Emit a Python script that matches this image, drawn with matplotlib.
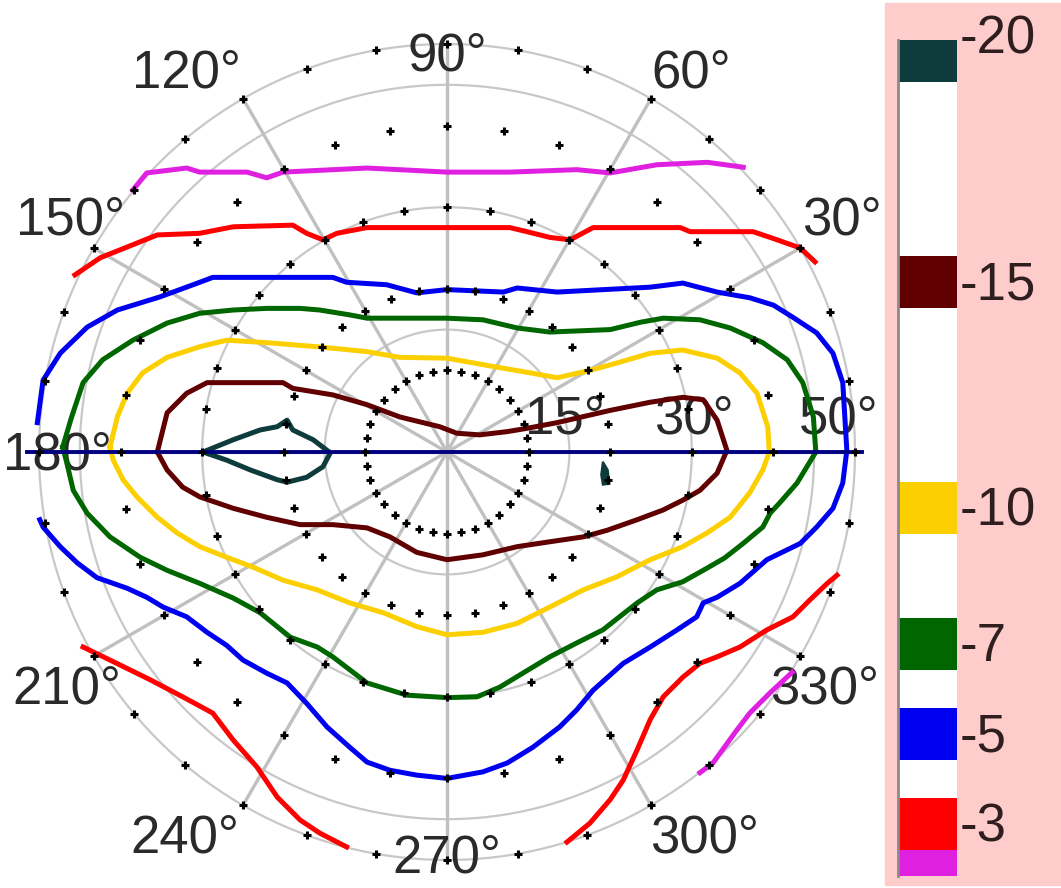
import numpy as np
import matplotlib.pyplot as plt
from matplotlib.patches import Rectangle, Polygon

plt.rcParams['font.family'] = ['Liberation Sans', 'DejaVu Sans']

# isopter levels and colours (colour bar, top to bottom)
levels = [-20, -15, -10, -7, -5, -3, -2]
level_colors = ['#0e3b3b', '#600000', '#fcd000', '#006600', '#0000f0', '#ff0000', '#e020e0']
level_labels = ['-20', '-15', '-10', '-7', '-5', '-3', '']

# test locations: eccentricity rings (deg) on every 10 deg meridian
ring_ecc = [10, 20, 30, 40, 50]
meridians = np.arange(0, 360, 10)

# polar grid
grid_circles = [15, 30, 45, 50]
spoke_angles = np.arange(0, 360, 30)
angle_labels = ['30°', '60°', '90°', '120°', '150°', '180°', '210°', '240°', '270°', '300°', '330°']
ecc_labels = ['15°', '30°', '50°']

# isopters, field coordinates in degrees (x right, y up)
iso20_x = [-29.9, -26.2, -22.9, -20.8, -19.6, -18.9, -16.4, -14.3, -15.2, -17.2, -19.6, -20.8, -24.1, -27.0]
iso20_y = [0.0, 1.5, 2.7, 3.1, 3.9, 2.7, 1.5, -0.1, -1.8, -3.1, -3.7, -3.4, -2.2, -1.0]
iso20b_x = [19.1, 19.7, 19.9, 19.1, 18.9]
iso20b_y = [-1.2, -2.2, -3.9, -4.0, -2.8]

iso15_x = [-35.5, -34.3, -31.9, -29.4, -20.1, -18.9, -14.0, -9.8, -5.8, -0.9, 1.2, 4.0, 7.4, 9.8,
           13.5, 20.0, 24.9, 28.9, 31.4, 33.1, 34.3, 33.1, 31.0, 28.9, 26.5, 23.3, 19.6, 16.7,
           12.6, 8.6, 4.4, 0.0, -3.7, -7.0, -9.8, -14.0, -18.0, -22.1, -26.2, -30.3, -32.4, -34.3]
iso15_y = [0.0, 4.8, 7.2, 8.5, 8.5, 7.8, 7.0, 5.8, 4.3, 3.1, 2.3, 2.1, 2.5, 2.9,
           3.6, 5.1, 6.1, 6.7, 6.4, 3.9, 0.2, -2.6, -4.7, -5.9, -7.1, -8.3, -9.6, -10.4,
           -11.0, -11.6, -12.6, -13.2, -12.3, -10.4, -9.3, -8.9, -8.9, -8.0, -6.9, -5.5, -4.3, -2.2]

iso10_x = [-41.3, -40.4, -39.2, -37.3, -34.3, -30.3, -27.0, -22.1, -15.9, -9.8, -5.8, 0.0, 6.1,
           10.2, 13.5, 17.5, 20.8, 24.9, 28.9, 33.1, 35.9, 38.0, 39.3, 39.5, 38.7, 37.1, 34.7,
           31.9, 28.9, 24.9, 20.8, 16.7, 12.6, 8.6, 4.4, 0.0, -3.7, -7.8, -11.9, -15.9, -20.1,
           -23.8, -27.0, -30.3, -33.1, -35.5, -38.0, -39.7, -40.9]
iso10_y = [0.6, 4.3, 7.2, 9.7, 11.6, 12.9, 13.7, 13.4, 12.9, 12.3, 11.6, 11.5, 10.4,
           9.7, 9.1, 10.0, 10.9, 12.1, 12.5, 11.5, 9.7, 7.2, 3.1, 0.0, -2.2, -5.0, -8.0,
           -9.9, -11.6, -13.2, -15.3, -16.9, -19.0, -21.0, -22.1, -22.4, -21.4, -19.7, -18.5, -16.9, -15.7,
           -14.1, -12.9, -11.6, -9.9, -8.0, -5.5, -3.4, -1.0]

iso7_x = [-47.1, -46.0, -44.6, -42.2, -38.5, -34.3, -30.3, -26.2, -22.1, -18.0, -15.6, -11.9, -9.8,
          0.0, 4.4, 8.6, 12.6, 20.0, 23.7, 26.5, 31.0, 34.7, 38.7, 41.7, 43.6, 44.9, 45.2,
          42.9, 40.8, 39.6, 38.7, 36.3, 34.0, 31.4, 28.9, 25.7, 23.3, 19.1, 15.9, 12.6, 9.3,
          6.5, 3.7, 0.0, -4.9, -9.8, -14.0, -15.9, -19.2, -22.9, -26.2, -30.3, -34.3, -37.6,
          -41.3, -44.1, -45.8, -46.6]
iso7_y = [0.6, 4.3, 8.5, 11.3, 13.7, 15.8, 17.0, 17.4, 17.6, 17.6, 17.4, 16.8, 16.4,
          16.4, 16.2, 15.2, 14.7, 15.0, 15.9, 16.4, 16.2, 15.2, 13.4, 11.3, 8.5, 4.3, 0.0,
          -3.8, -6.2, -7.5, -9.2, -11.2, -13.0, -14.5, -15.9, -16.9, -18.5, -21.8, -23.4, -25.1, -27.1,
          -28.8, -30.0, -30.1, -29.8, -28.3, -25.1, -23.9, -22.7, -19.7, -17.9, -16.1, -14.5, -12.9,
          -10.4, -7.5, -4.7, -1.3]

iso5_x = [-49.9, -49.5, -47.4, -45.3, -42.9, -39.2, -36.8, -34.8, -31.9, -29.4, -27.0, -25.0,
          -22.1, -19.6, -17.2, -14.7, -11.9, -9.8, -7.0, -3.7, 0.0, 4.4, 7.4, 10.5, 13.8, 15.9,
          17.9, 21.6, 24.9, 28.2, 30.6, 31.4, 33.1, 35.9, 39.2, 43.3, 45.3, 47.3, 48.5, 49.0,
          48.5, 47.3, 45.3, 42.4, 40.0, 37.1, 33.1, 28.9, 24.9, 13.5, 8.6, 6.9, 0.0, -3.7,
          -7.4, -12.3, -14.0, -28.7, -30.3, -35.2, -40.4, -44.1, -47.4, -49.5, -50.2]
iso5_y = [-8.3, -9.2, -11.6, -13.6, -15.4, -16.7, -17.8, -19.0, -20.2, -22.1, -23.7, -25.5,
          -27.1, -28.3, -30.8, -33.7, -36.2, -38.0, -39.0, -39.6, -40.0, -39.2, -38.1, -36.2, -33.7, -31.6,
          -29.2, -25.9, -23.9, -21.8, -20.2, -18.5, -17.8, -16.1, -13.2, -11.2, -9.2, -6.9, -3.8, 0.2,
          8.5, 12.1, 14.6, 16.5, 18.0, 18.9, 19.6, 20.7, 20.2, 19.6, 20.1, 19.6, 19.9, 19.5,
          20.5, 20.8, 21.4, 21.4, 20.8, 19.0, 17.4, 15.3, 12.1, 8.8, 3.6]

iso3_top_x = [-45.6, -42.5, -38.5, -35.5, -30.3, -26.2, -18.9, -17.2, -15.2, -13.5, -9.8, 0.0,
              7.7, 9.8, 12.6, 15.1, 17.9, 28.6, 29.8, 37.5, 39.6, 43.3, 45.1]
iso3_top_y = [21.7, 23.8, 25.4, 26.6, 26.8, 27.6, 27.8, 26.8, 26.0, 26.8, 27.5, 27.5,
              27.5, 27.0, 26.3, 26.0, 27.5, 27.5, 27.0, 27.0, 26.3, 25.0, 23.3]
iso3_bl_x = [-44.6, -41.3, -36.4, -32.4, -28.7, -26.2, -23.3, -20.8, -18.0, -15.6, -12.3]
iso3_bl_y = [-23.9, -25.5, -27.9, -30.0, -32.0, -35.3, -38.6, -42.3, -45.1, -46.7, -48.4]
iso3_br_x = [14.7, 17.5, 20.0, 21.6, 23.3, 24.9, 26.5, 28.9, 31.0, 33.1, 35.9, 39.2, 42.4, 44.5, 46.6, 47.8]
iso3_br_y = [-47.8, -45.5, -42.6, -40.2, -36.5, -32.8, -30.0, -27.6, -25.9, -25.1, -23.9, -21.8,
             -20.2, -18.1, -16.1, -15.1]

iso2_top_x = [-38.5, -36.8, -31.9, -30.3, -24.5, -22.1, -20.1, -9.8, 0.0, 7.7, 15.9, 20.0, 25.7, 31.9, 36.3]
iso2_top_y = [32.1, 34.2, 34.8, 34.3, 34.3, 33.6, 34.3, 34.8, 34.3, 34.3, 34.6, 34.2, 35.2, 35.5, 34.9]
iso2_br_x = [31.0, 32.6, 35.5, 37.1, 39.6, 42.3]
iso2_br_y = [-39.3, -38.1, -34.1, -32.0, -29.5, -27.0]

# ---------------------------------------------------------------------------
px_per_deg = 8.16
W, H = 1061, 888
cx, cy = 447, 452  # pixel position of the field centre

fig = plt.figure(figsize=(W / 100, H / 100), dpi=100)
fig.patches.append(Rectangle((885 / W, 3 / H), 1 - 885 / W, 882 / H,
                             transform=fig.transFigure, color='#ffcccc', zorder=-5))

ax = fig.add_axes([0, 0, 1, 1])
ax.set_xlim(-cx / px_per_deg, (W - cx) / px_per_deg)
ax.set_ylim(-(H - cy) / px_per_deg, cy / px_per_deg)
ax.axis('off')

t = np.linspace(0, 2 * np.pi, 400)
for r in grid_circles:
    ax.plot(r * np.cos(t), r * np.sin(t), color='#c8c8c8', lw=1.6, zorder=1)
for a in spoke_angles:
    a = np.deg2rad(a)
    ax.plot([0, 50 * np.cos(a)], [0, 50 * np.sin(a)], color='#c0c0c0', lw=2.4, zorder=1)

# angle labels (text centre x, digit baseline y) in degrees
lab_x = [48.4, 29.9, 0.0, -31.9, -46.2, -47.7, -46.6, -32.1, 0.0, 31.6, 46.3]
lab_y = [26.6, 44.7, 46.8, 44.7, 26.6, -2.2, -30.8, -49.1, -51.5, -49.1, -30.8]
for s, x, y in zip(angle_labels, lab_x, lab_y):
    ax.text(x, y, s, fontsize=38, color='#2a2a2a', ha='center', va='baseline', zorder=2)
for s, x in zip(ecc_labels, [14.5, 30.3, 48.0]):
    ax.text(x, 2.3, s, fontsize=38, color='#2a2a2a', ha='center', va='baseline', zorder=2)

lw = 3.6
ax.plot(iso2_top_x, iso2_top_y, color=level_colors[6], lw=lw, zorder=3)
ax.plot(iso2_br_x, iso2_br_y, color=level_colors[6], lw=lw, zorder=3)
ax.plot(iso3_top_x, iso3_top_y, color=level_colors[5], lw=lw, zorder=3)
ax.plot(iso3_bl_x, iso3_bl_y, color=level_colors[5], lw=lw, zorder=3)
ax.plot(iso3_br_x, iso3_br_y, color=level_colors[5], lw=lw, zorder=3)
ax.plot(iso5_x, iso5_y, color=level_colors[4], lw=lw, zorder=3)
for xs, ys, c in [(iso7_x, iso7_y, level_colors[3]),
                  (iso10_x, iso10_y, level_colors[2]),
                  (iso15_x, iso15_y, level_colors[1]),
                  (iso20_x, iso20_y, level_colors[0])]:
    ax.plot(xs + xs[:1], ys + ys[:1], color=c, lw=lw, zorder=3)
ax.add_patch(Polygon(np.column_stack([iso20b_x, iso20b_y]), closed=True,
                     facecolor=level_colors[0], edgecolor=level_colors[0], lw=1.5, zorder=3))

# horizontal meridian
ax.plot([-51.5, 50.9], [0, 0], color='#000080', lw=2.8, zorder=4)

# test points
th, rr = np.meshgrid(np.deg2rad(meridians), ring_ecc)
ax.plot((rr * np.cos(th)).ravel(), (rr * np.sin(th)).ravel(), '+', color='black',
        ms=6, mew=2.2, zorder=5)

# colour bar
cax = fig.add_axes([898 / W, 12 / H, 59 / W, 836 / H], zorder=3)
cax.set_xlim(0, 1)
cax.set_ylim(-1.86, -20.35)
for lv, c in zip(levels[::-1], level_colors[::-1]):
    cax.barh(lv, 1, height=1.15, left=0, color=c)
for lv, s in zip(levels, level_labels):
    ty = lv + 0.38 if lv > -20 else lv - 0.05
    cax.text(1.05, ty, s, transform=cax.get_yaxis_transform(), fontsize=38,
             color='#2e1e1e', ha='left', va='baseline', clip_on=False)
cax.set_xticks([])
cax.set_yticks([])
for side in ['top', 'right', 'bottom']:
    cax.spines[side].set_visible(False)
cax.spines['left'].set_color('#8a8a8a')
cax.spines['left'].set_linewidth(2)

fig.savefig('out.png', dpi=100)
